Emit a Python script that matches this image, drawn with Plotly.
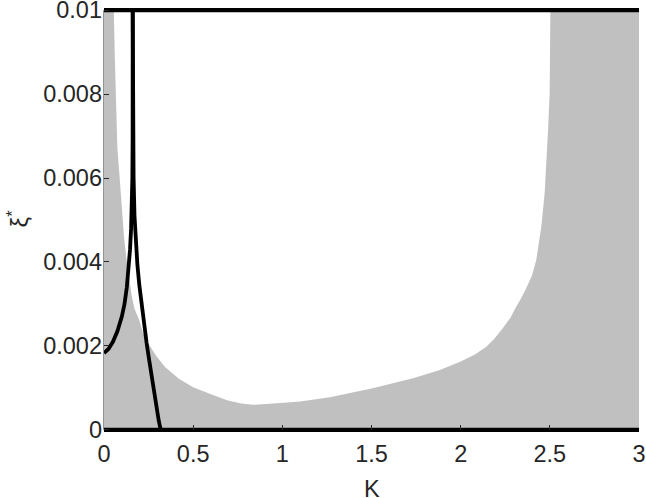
import plotly.graph_objects as go

# Shaded-region upper boundary (K, xi*)
k_boundary = [0.0, 0.055, 0.060, 0.065, 0.075, 0.088, 0.100, 0.112, 0.125, 0.140, 0.155, 0.170,
              0.197, 0.220, 0.247, 0.290, 0.342, 0.420, 0.500, 0.600, 0.690, 0.770, 0.835,
              0.950, 1.100, 1.266, 1.500, 1.733, 1.880, 2.000, 2.080, 2.144, 2.190, 2.237,
              2.280, 2.312, 2.340, 2.368, 2.400, 2.424, 2.440, 2.452, 2.471, 2.482, 2.491,
              2.499, 2.502, 2.503, 3.0]
xi_boundary = [0.01, 0.01, 0.0090, 0.0080, 0.0067, 0.0060, 0.0053, 0.0046, 0.0041, 0.0036, 0.0032,
               0.0029, 0.00262, 0.0023, 0.00207, 0.00178, 0.0015, 0.00122, 0.00102, 0.00085,
               0.00071, 0.00063, 0.0006, 0.00063, 0.00068, 0.00078, 0.00099, 0.00123, 0.00142,
               0.00163, 0.00180, 0.00198, 0.00218, 0.00243, 0.00268, 0.00294, 0.00314, 0.00338,
               0.00368, 0.00405, 0.00445, 0.00484, 0.00564, 0.00643, 0.00722, 0.00802, 0.00881,
               0.01, 0.01]

# Rising black curve
k_curve1 = [0.000, 0.025, 0.050, 0.075, 0.100, 0.115, 0.128, 0.138, 0.146, 0.152, 0.156,
            0.159, 0.1605, 0.161, 0.161]
xi_curve1 = [0.00183, 0.00193, 0.00210, 0.00235, 0.00270, 0.00300, 0.00340, 0.00380, 0.00430,
             0.00480, 0.00530, 0.00600, 0.00700, 0.00850, 0.0100]

# Falling black curve
k_curve2 = [0.161, 0.1615, 0.163, 0.166, 0.171, 0.178, 0.187, 0.198, 0.210, 0.224, 0.239,
            0.253, 0.267, 0.281, 0.295, 0.307, 0.318]
xi_curve2 = [0.0100, 0.0085, 0.0070, 0.0060, 0.0051, 0.0044, 0.00395, 0.00345, 0.00300, 0.00250,
             0.00207, 0.00167, 0.00127, 0.00088, 0.00048, 0.00022, 0.0]

# Horizontal bounding lines
k_edges = [0.0, 3.0]
xi_top = [0.01, 0.01]
xi_bottom = [0.0, 0.0]

x_ticks = [0, 0.5, 1, 1.5, 2, 2.5, 3]
x_tick_text = ["0", "0.5", "1", "1.5", "2", "2.5", "3"]
y_ticks = [0, 0.002, 0.004, 0.006, 0.008, 0.01]
y_tick_text = ["0", "0.002", "0.004", "0.006", "0.008", "0.01"]

GRAY = "#c0c0c0"
AXC = "#262626"
FONT = "Liberation Sans, Arial, Helvetica, sans-serif"
FS = 23.5

fig = go.Figure()
fig.add_trace(go.Scatter(x=k_boundary, y=xi_boundary, mode="lines", fill="tozeroy",
                         fillcolor=GRAY, line=dict(width=0, color=GRAY), hoverinfo="skip"))
fig.add_trace(go.Scatter(x=k_curve1, y=xi_curve1, mode="lines",
                         line=dict(color="black", width=3.8)))
fig.add_trace(go.Scatter(x=k_curve2, y=xi_curve2, mode="lines",
                         line=dict(color="black", width=3.8)))
fig.add_trace(go.Scatter(x=k_edges, y=xi_top, mode="lines",
                         line=dict(color="black", width=4.2)))
fig.add_trace(go.Scatter(x=k_edges, y=xi_bottom, mode="lines",
                         line=dict(color="black", width=4.2)))

fig.add_shape(type="line", xref="paper", yref="y", x0=0, x1=0, y0=0, y1=0.01,
              line=dict(color=AXC, width=1), layer="below")

fig.add_annotation(text="K", xref="paper", yref="paper", x=0.5, y=-0.1256,
                   xanchor="center", yanchor="middle", showarrow=False,
                   font=dict(family=FONT, size=FS, color=AXC))
fig.add_annotation(text="ξ<sup>*</sup>", xref="paper", yref="paper", x=-0.16, y=0.5047,
                   xanchor="center", yanchor="middle", showarrow=False, textangle=-90,
                   font=dict(family=FONT, size=FS, color=AXC))

fig.update_layout(
    width=646, height=498,
    margin=dict(l=104, r=7, t=5, b=63, pad=0, autoexpand=False),
    paper_bgcolor="white", plot_bgcolor="white",
    showlegend=False,
    font=dict(family=FONT, size=FS, color=AXC),
    xaxis=dict(range=[0, 3], tickvals=x_ticks, ticktext=x_tick_text,
               ticks="inside", ticklen=5, tickwidth=1, tickcolor=AXC,
               showgrid=False, zeroline=False, showline=False, automargin=False,
               anchor="free", position=0.01163,
               tickfont=dict(size=FS, color=AXC), ticklabeloverflow="allow",
               ticklabelstandoff=8),
    yaxis=dict(range=[-0.00012, 0.01012], tickvals=y_ticks, ticktext=y_tick_text,
               ticks="inside", ticklen=5, tickwidth=1, tickcolor=AXC,
               showgrid=False, zeroline=False, showline=False, automargin=False,
               tickfont=dict(size=FS, color=AXC), ticklabeloverflow="allow",
               ticklabelstandoff=1),
)

fig.write_html("out.html",
               config={"displayModeBar": False},
               post_script="document.body.style.margin='0px';"
                           "document.body.style.overflow='hidden';")
